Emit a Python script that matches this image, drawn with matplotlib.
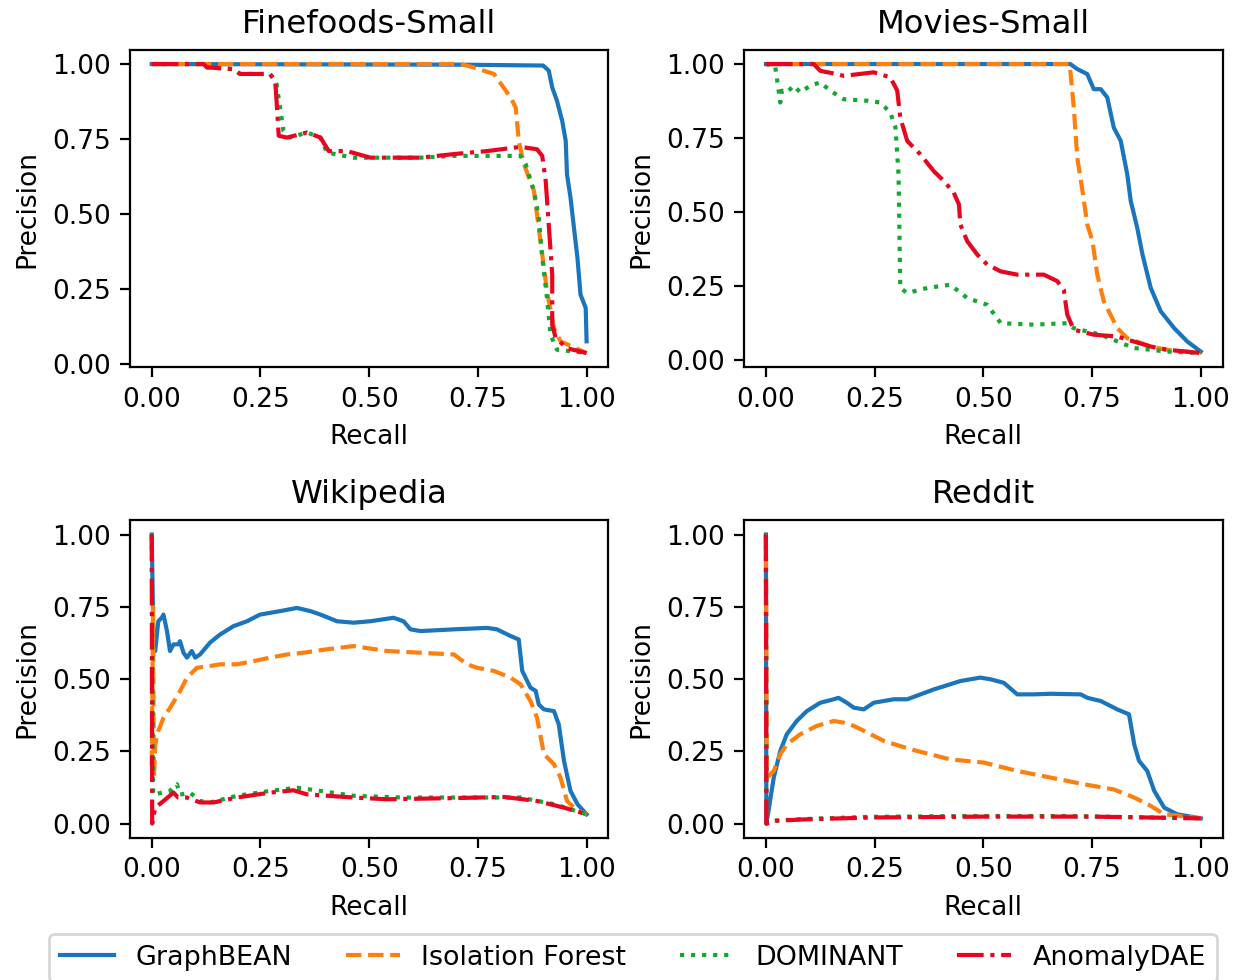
import matplotlib
matplotlib.use("Agg")
import matplotlib.pyplot as plt

# ---------------- data ----------------
titles = ["Finefoods-Small", "Movies-Small", "Wikipedia", "Reddit"]
methods = ["GraphBEAN", "Isolation Forest", "DOMINANT", "AnomalyDAE"]
xticks = [0.00, 0.25, 0.50, 0.75, 1.00]
yticks = [0.00, 0.25, 0.50, 0.75, 1.00]

# Finefoods-Small
ff_gb_r = [0.0, 0.70, 0.90, 0.913, 0.921, 0.932, 0.944, 0.952, 0.955, 0.963, 0.971, 0.979, 0.986, 0.998, 1.0]
ff_gb_p = [1.0, 0.998, 0.995, 0.978, 0.922, 0.877, 0.81, 0.744, 0.632, 0.555, 0.454, 0.354, 0.232, 0.187, 0.076]
ff_if_r = [0.0, 0.71, 0.74, 0.787, 0.825, 0.837, 0.844, 0.856, 0.879, 0.894, 0.909, 0.925, 0.94, 1.0]
ff_if_p = [1.0, 1.0, 0.989, 0.967, 0.889, 0.855, 0.744, 0.666, 0.577, 0.41, 0.243, 0.12, 0.076, 0.037]
ff_do_r = [0.0, 0.119, 0.127, 0.188, 0.203, 0.272, 0.287, 0.295, 0.303, 0.318, 0.357, 0.388, 0.403, 0.464,
           0.618, 0.695, 0.848, 0.86, 0.879, 0.89, 0.898, 0.909, 0.917, 0.932, 0.971, 1.0]
ff_do_p = [1.0, 1.0, 0.989, 0.983, 0.967, 0.967, 0.933, 0.855, 0.777, 0.755, 0.772, 0.755, 0.705, 0.688,
           0.688, 0.694, 0.694, 0.666, 0.577, 0.488, 0.354, 0.22, 0.098, 0.048, 0.042, 0.037]
ff_ad_r = [0.0, 0.119, 0.127, 0.188, 0.203, 0.272, 0.284, 0.288, 0.292, 0.311, 0.357, 0.388, 0.407, 0.449,
           0.503, 0.618, 0.695, 0.771, 0.848, 0.886, 0.898, 0.906, 0.913, 0.921, 0.921, 0.929, 0.955, 1.0]
ff_ad_p = [1.0, 1.0, 0.989, 0.983, 0.967, 0.967, 0.944, 0.855, 0.761, 0.755, 0.772, 0.755, 0.71, 0.71,
           0.688, 0.688, 0.70, 0.71, 0.724, 0.716, 0.694, 0.61, 0.465, 0.298, 0.131, 0.087, 0.053, 0.037]

# Movies-Small
mv_gb_r = [0.0, 0.70, 0.716, 0.739, 0.754, 0.77, 0.785, 0.80, 0.816, 0.831, 0.839, 0.854, 0.866, 0.885,
           0.908, 0.939, 0.969, 1.0]
mv_gb_p = [1.0, 1.0, 0.983, 0.966, 0.915, 0.915, 0.887, 0.785, 0.74, 0.627, 0.537, 0.446, 0.356, 0.243,
           0.164, 0.107, 0.062, 0.028]
mv_if_r = [0.0, 0.697, 0.70, 0.708, 0.716, 0.728, 0.739, 0.751, 0.762, 0.777, 0.808, 0.831, 0.885, 0.923, 1.0]
mv_if_p = [1.0, 1.0, 0.977, 0.853, 0.684, 0.571, 0.458, 0.401, 0.288, 0.198, 0.107, 0.073, 0.045, 0.034, 0.023]
mv_do_r = [0.0, 0.021, 0.025, 0.033, 0.037, 0.048, 0.064, 0.079, 0.102, 0.125, 0.148, 0.179, 0.233, 0.263,
           0.286, 0.298, 0.305, 0.309, 0.325, 0.371, 0.424, 0.463, 0.509, 0.54, 0.616, 0.693, 0.708,
           0.77, 0.846, 0.923, 1.0]
mv_do_p = [1.0, 0.994, 0.955, 0.87, 0.91, 0.904, 0.927, 0.904, 0.927, 0.938, 0.91, 0.881, 0.876, 0.87,
           0.836, 0.785, 0.627, 0.243, 0.226, 0.243, 0.254, 0.209, 0.186, 0.124, 0.119, 0.124, 0.107,
           0.085, 0.04, 0.028, 0.023]
mv_ad_r = [0.0, 0.11, 0.125, 0.163, 0.179, 0.248, 0.286, 0.302, 0.309, 0.325, 0.355, 0.386, 0.409, 0.432,
           0.444, 0.447, 0.463, 0.486, 0.509, 0.54, 0.578, 0.639, 0.67, 0.685, 0.693, 0.708, 0.754,
           0.808, 0.846, 0.885, 0.923, 1.0]
mv_ad_p = [1.0, 1.0, 0.977, 0.966, 0.96, 0.972, 0.955, 0.91, 0.819, 0.74, 0.695, 0.638, 0.605, 0.565,
           0.525, 0.458, 0.401, 0.356, 0.322, 0.299, 0.288, 0.288, 0.266, 0.237, 0.153, 0.102, 0.085,
           0.079, 0.062, 0.045, 0.034, 0.023]

# Wikipedia
wk_gb_r = [0.0, 0.004, 0.008, 0.015, 0.023, 0.027, 0.035, 0.042, 0.05, 0.061, 0.065, 0.073, 0.081, 0.092,
           0.10, 0.111, 0.134, 0.157, 0.188, 0.219, 0.249, 0.295, 0.334, 0.365, 0.388, 0.426, 0.464,
           0.503, 0.556, 0.579, 0.595, 0.618, 0.695, 0.771, 0.794, 0.825, 0.844, 0.852, 0.871, 0.883,
           0.89, 0.902, 0.925, 0.936, 0.948, 0.963, 0.979, 1.0]
wk_gb_p = [1.0, 0.62, 0.597, 0.70, 0.712, 0.723, 0.666, 0.597, 0.62, 0.62, 0.631, 0.591, 0.574, 0.597,
           0.574, 0.585, 0.626, 0.654, 0.683, 0.70, 0.723, 0.735, 0.746, 0.735, 0.723, 0.70, 0.695,
           0.70, 0.712, 0.70, 0.672, 0.666, 0.672, 0.677, 0.672, 0.649, 0.637, 0.528, 0.47, 0.459,
           0.412, 0.395, 0.389, 0.343, 0.217, 0.113, 0.067, 0.032]
wk_if_r = [0.0, 0.003, 0.005, 0.008, 0.015, 0.027, 0.042, 0.065, 0.081, 0.104, 0.134, 0.157, 0.196, 0.234,
           0.272, 0.311, 0.349, 0.403, 0.464, 0.541, 0.618, 0.695, 0.725, 0.748, 0.787, 0.825, 0.848,
           0.871, 0.886, 0.902, 0.925, 0.94, 0.955, 0.979, 1.0]
wk_if_p = [0.2, 0.75, 0.16, 0.274, 0.32, 0.366, 0.40, 0.458, 0.505, 0.539, 0.545, 0.551, 0.551, 0.562,
           0.574, 0.585, 0.591, 0.603, 0.614, 0.597, 0.591, 0.585, 0.551, 0.539, 0.528, 0.505, 0.482,
           0.424, 0.366, 0.24, 0.205, 0.159, 0.078, 0.044, 0.032]
wk_do_r = [0.0, 0.003, 0.042, 0.058, 0.065, 0.088, 0.111, 0.134, 0.196, 0.272, 0.334, 0.388, 0.464, 0.579,
           0.695, 0.848, 0.925, 1.0]
wk_do_p = [1.0, 0.10, 0.113, 0.136, 0.10, 0.107, 0.078, 0.073, 0.096, 0.113, 0.124, 0.113, 0.096, 0.09,
           0.09, 0.09, 0.067, 0.032]
wk_ad_r = [0.0, 0.001, 0.008, 0.027, 0.05, 0.061, 0.081, 0.111, 0.142, 0.196, 0.272, 0.326, 0.357, 0.464,
           0.541, 0.695, 0.81, 0.886, 0.948, 1.0]
wk_ad_p = [1.0, 0.0, 0.055, 0.078, 0.107, 0.09, 0.09, 0.073, 0.073, 0.09, 0.107, 0.115, 0.101, 0.09,
           0.084, 0.088, 0.092, 0.078, 0.055, 0.032]

# Reddit
rd_gb_r = [0.0, 0.001, 0.006, 0.018, 0.033, 0.048, 0.071, 0.094, 0.125, 0.156, 0.167, 0.186, 0.202, 0.225,
           0.248, 0.294, 0.325, 0.386, 0.447, 0.493, 0.517, 0.547, 0.578, 0.616, 0.655, 0.724, 0.739,
           0.77, 0.808, 0.835, 0.847, 0.858, 0.877, 0.893, 0.916, 0.946, 1.0]
rd_gb_p = [1.0, 0.0, 0.044, 0.159, 0.251, 0.309, 0.355, 0.389, 0.418, 0.43, 0.435, 0.418, 0.401, 0.395,
           0.418, 0.43, 0.43, 0.464, 0.493, 0.505, 0.499, 0.487, 0.447, 0.447, 0.449, 0.447, 0.435,
           0.424, 0.395, 0.378, 0.274, 0.217, 0.182, 0.113, 0.055, 0.032, 0.018]
rd_if_r = [0.0, 0.002, 0.01, 0.018, 0.033, 0.048, 0.079, 0.117, 0.156, 0.179, 0.202, 0.233, 0.271, 0.309,
           0.348, 0.424, 0.501, 0.578, 0.655, 0.731, 0.80, 0.847, 0.885, 0.916, 1.0]
rd_if_p = [1.0, 0.159, 0.17, 0.182, 0.24, 0.274, 0.309, 0.338, 0.355, 0.349, 0.338, 0.315, 0.286, 0.268,
           0.251, 0.222, 0.211, 0.182, 0.159, 0.136, 0.118, 0.09, 0.061, 0.032, 0.018]
rd_do_r = [0.0, 0.001, 0.01, 0.079, 0.233, 0.463, 0.693, 1.0]
rd_do_p = [1.0, 0.0, 0.009, 0.015, 0.023, 0.026, 0.026, 0.018]
rd_ad_r = [0.0, 0.001, 0.025, 0.10, 0.25, 0.50, 0.75, 1.0]
rd_ad_p = [1.0, 0.0, 0.01, 0.015, 0.021, 0.024, 0.024, 0.018]

panels = [
    [(ff_gb_r, ff_gb_p), (ff_if_r, ff_if_p), (ff_do_r, ff_do_p), (ff_ad_r, ff_ad_p)],
    [(mv_gb_r, mv_gb_p), (mv_if_r, mv_if_p), (mv_do_r, mv_do_p), (mv_ad_r, mv_ad_p)],
    [(wk_gb_r, wk_gb_p), (wk_if_r, wk_if_p), (wk_do_r, wk_do_p), (wk_ad_r, wk_ad_p)],
    [(rd_gb_r, rd_gb_p), (rd_if_r, rd_if_p), (rd_do_r, rd_do_p), (rd_ad_r, rd_ad_p)],
]

colors = ["#1a75bc", "#ff7f0e", "#13a832", "#e8051f"]
styles = ["-", "--", ":", "-."]

# ---------------- plot ----------------
plt.rcParams["font.family"] = ["DejaVu Sans"]
fig, axes = plt.subplots(2, 2, figsize=(6.25, 4.9), dpi=200)
fig.subplots_adjust(left=0.104, right=0.978, top=0.9494, bottom=0.1449,
                    wspace=0.284, hspace=0.48)

for ax, title, series in zip(axes.flat, titles, panels):
    for (r, p), c, ls, m in zip(series, colors, styles, methods):
        ax.plot(r, p, color=c, linestyle=ls, linewidth=1.5, label=m)
    ax.set_title(title, fontsize=11.6)
    ax.set_xlabel("Recall", fontsize=9.5)
    ax.set_ylabel("Precision", fontsize=9.5)
    ax.set_xticks(xticks)
    ax.set_yticks(yticks)
    ax.set_xticklabels([f"{t:.2f}" for t in xticks])
    ax.set_yticklabels([f"{t:.2f}" for t in yticks])
    ax.tick_params(labelsize=9.5)

handles, labels = axes[0, 0].get_legend_handles_labels()
fig.legend(handles, labels, loc="upper center", ncol=4, fontsize=9.7,
           borderaxespad=0.0,
           bbox_to_anchor=(633 / 1250, 1 - 934 / 980))

fig.savefig("out.png", dpi=200)
